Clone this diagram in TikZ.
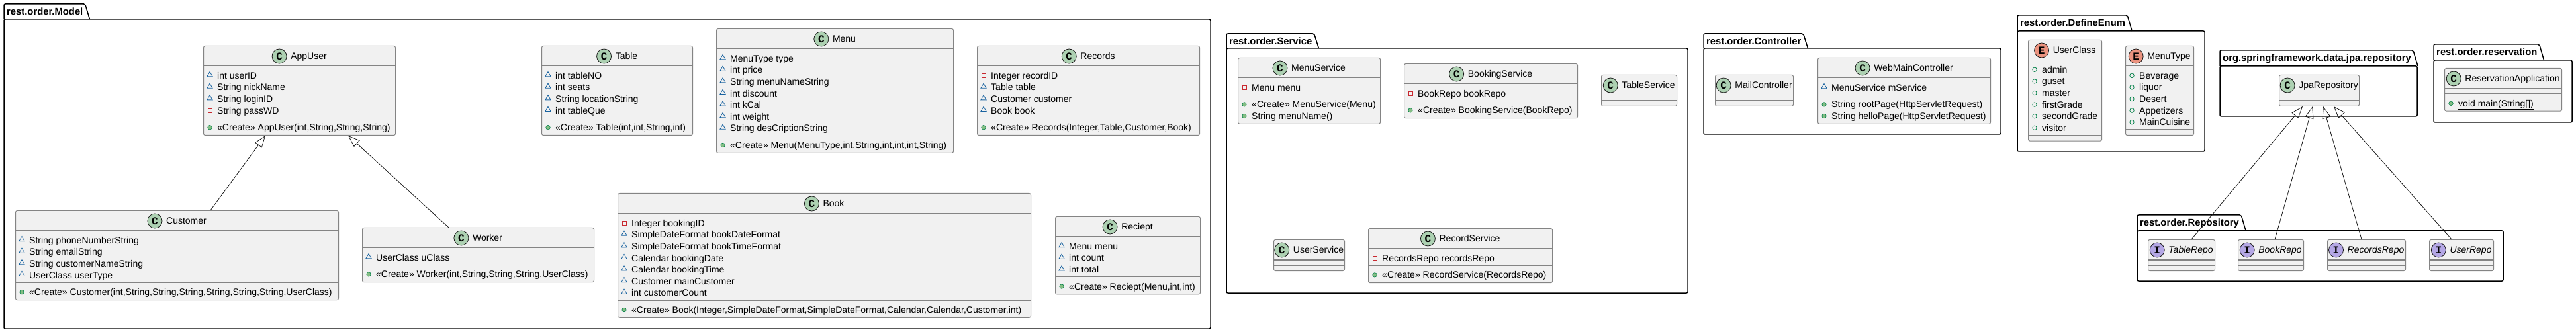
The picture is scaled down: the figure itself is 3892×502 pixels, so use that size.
\documentclass[tikz,border=0pt]{standalone}
\usepackage{fontspec}
\setmainfont{Liberation Sans}
\newfontfamily\lettermono{Liberation Mono}
\usetikzlibrary{calc,shapes.geometric,arrows.meta}

\definecolor{boxfill}{HTML}{F1F1F1}
\definecolor{boxedge}{HTML}{848484}
\definecolor{inkline}{HTML}{181818}
\definecolor{clsgreen}{HTML}{ADD1B2}
\definecolor{enumred}{HTML}{EB937F}
\definecolor{ifcpurple}{HTML}{B4A7E5}
\definecolor{pkgblue}{HTML}{1963A0}
\definecolor{privred}{HTML}{C82930}
\definecolor{pubfill}{HTML}{84BE84}
\definecolor{pubedge}{HTML}{038048}

\tikzset{
  classbox/.style={draw=boxedge, fill=boxfill, line width=1pt, rounded corners=2.5pt, inner sep=0pt},
  classrule/.style={draw=boxedge, line width=1pt},
  classname/.style={font=\fontsize{14}{17}\selectfont, inner sep=0pt},
  member/.style={font=\fontsize{14}{17}\selectfont, inner sep=0pt},
  kindC/.style={circle, draw=inkline, fill=clsgreen, minimum size=22pt, inner sep=0pt, line width=0.8pt, font=\lettermono\bfseries\fontsize{16}{16}\selectfont},
  kindE/.style={kindC, fill=enumred},
  kindI/.style={kindC, fill=ifcpurple},
  pkgicon/.style={regular polygon, regular polygon sides=3, draw=pkgblue, line width=0.8pt, minimum size=9.5pt, inner sep=0pt, yshift=1pt},
  privicon/.style={rectangle, draw=privred, line width=0.8pt, minimum size=6pt, inner sep=0pt},
  pubicon/.style={circle, draw=pubedge, fill=pubfill, line width=0.6pt, minimum size=6.5pt, inner sep=0pt},
  enumicon/.style={circle, draw=pubedge, line width=0.8pt, minimum size=6.5pt, inner sep=0pt},
  pkgframe/.style={draw=black, line width=1.5pt},
  pkglabel/.style={font=\fontsize{14.8}{17}\selectfont\bfseries, inner sep=0pt},
  extends/.style={draw=inkline, line width=0.8pt, -{Triangle[open, length=18pt, width=13pt]}},
}

% name, left, tab top, body top, right, bottom, label
\newcommand{\umlpackage}[7]{%
  \node[pkglabel, anchor=base west] (#1) at (#2+4,#3+16.3) {#7};
  \draw[pkgframe, rounded corners=2pt] (#2,#4) rectangle (#5,#6);
  \draw[pkgframe, rounded corners=2pt] (#2,#4) -- (#2,#3) -- ($(#1.east |- 0,#3)+(3,0)$) -- ($(#1.east |- 0,#4)+(10,0)$);
}

% name, left, top, width, attributes, methods, kind letter, title
\newcommand{\umlclass}[8]{%
  \pgfmathsetmacro\clsheight{47+17.6*(#5+#6)}
  \node[classbox, minimum width=#4, minimum height=\clsheight, anchor=north west] (#1) at (#2,#3) {};
  \draw[classrule] ($(#1.north west)+(0,31)$) -- ($(#1.north east)+(0,31)$);
  \draw[classrule] ($(#1.north west)+(0,39+17.6*#5)$) -- ($(#1.north east)+(0,39+17.6*#5)$);
  \node[classname, anchor=base] (#1-name) at ($(#1.north)+(14,21)$) {#8};
  \node[kind#7] (#1-kind) at ($(#1-name.base west)+(-17,-5)$) {#7};
}

% class, part, first baseline, icon/text list
\newcommand{\members}[4]{%
  \foreach \ic/\tx [count=\k from 0] in {#4}{%
    \node[\ic] (#1-#2\k-icon) at ($(#1.north west)+(10,#3+17.6*\k-5)$) {};
    \node[member, anchor=base west] (#1-#2\k) at ($(#1.north west)+(21,#3+17.6*\k)$) {\tx};
  }%
}

\begin{document}
\begin{tikzpicture}[x=1pt, y=-1pt]
\useasboundingbox (0,0) rectangle (3892,502);

\umlpackage{model}{6}{6}{29}{1829}{497}{rest.order.Model}
\umlpackage{service}{1853}{51}{73}{2550}{443}{rest.order.Service}
\umlpackage{controller}{2574}{51}{73}{3023}{203}{rest.order.Controller}
\umlpackage{defineenum}{3048}{23}{47}{3331}{229}{rest.order.DefineEnum}
\umlpackage{jpa}{3354}{76}{100}{3652}{176}{org.springframework.data.jpa.repository}
\umlpackage{reservation}{3677}{67}{91}{3886}{185}{rest.order.reservation}
\umlpackage{repository}{3229}{325}{349}{3782}{425}{rest.order.Repository}

\umlclass{appuser}{307}{69}{290}{4}{1}{C}{AppUser}
\members{appuser}{a}{50.3}{pkgicon/int userID, pkgicon/String nickName, pkgicon/String loginID, privicon/String passWD}
\members{appuser}{m}{128.7}{pubicon/{«Create» AppUser(int,String,String,String)}}

\umlclass{customer}{23}{318}{488}{4}{1}{C}{Customer}
\members{customer}{a}{50.3}{pkgicon/String phoneNumberString, pkgicon/String emailString, pkgicon/String customerNameString, pkgicon/UserClass userType}
\members{customer}{m}{128.7}{pubicon/{«Create» Customer(int,String,String,String,String,String,String,UserClass)}}

\umlclass{worker}{547}{344}{350}{1}{1}{C}{Worker}
\members{worker}{a}{50.3}{pkgicon/UserClass uClass}
\members{worker}{m}{75.9}{pubicon/{«Create» Worker(int,String,String,String,UserClass)}}

\umlclass{table}{818}{69}{228}{4}{1}{C}{Table}
\members{table}{a}{50.3}{pkgicon/int tableNO, pkgicon/int seats, pkgicon/String locationString, pkgicon/int tableQue}
\members{table}{m}{128.7}{pubicon/{«Create» Table(int,int,String,int)}}

\umlclass{menu}{1082}{43}{358}{7}{1}{C}{Menu}
\members{menu}{a}{50.3}{pkgicon/MenuType type, pkgicon/int price, pkgicon/String menuNameString, pkgicon/int discount, pkgicon/int kCal, pkgicon/int weight, pkgicon/String desCriptionString}
\members{menu}{m}{181.5}{pubicon/{«Create» Menu(MenuType,int,String,int,int,int,String)}}

\umlclass{records}{1476}{69}{336}{4}{1}{C}{Records}
\members{records}{a}{50.3}{privicon/Integer recordID, pkgicon/Table table, pkgicon/Customer customer, pkgicon/Book book}
\members{records}{m}{128.7}{pubicon/{«Create» Records(Integer,Table,Customer,Book)}}

\umlclass{book}{933}{292}{624}{7}{1}{C}{Book}
\members{book}{a}{50.3}{privicon/Integer bookingID, pkgicon/SimpleDateFormat bookDateFormat, pkgicon/SimpleDateFormat bookTimeFormat, pkgicon/Calendar bookingDate, pkgicon/Calendar bookingTime, pkgicon/Customer mainCustomer, pkgicon/int customerCount}
\members{book}{m}{181.5}{pubicon/{«Create» Book(Integer,SimpleDateFormat,SimpleDateFormat,Calendar,Calendar,Customer,int)}}

\umlclass{reciept}{1594}{327}{219}{3}{1}{C}{Reciept}
\members{reciept}{a}{50.3}{pkgicon/Menu menu, pkgicon/int count, pkgicon/int total}
\members{reciept}{m}{111.1}{pubicon/{«Create» Reciept(Menu,int,int)}}

\umlclass{menuservice}{1870}{87}{215}{1}{2}{C}{MenuService}
\members{menuservice}{a}{50.3}{privicon/Menu menu}
\members{menuservice}{m}{75.9}{pubicon/{«Create» MenuService(Menu)}, pubicon/{String menuName()}}

\umlclass{bookingservice}{2121}{96}{262}{1}{1}{C}{BookingService}
\members{bookingservice}{a}{50.3}{privicon/BookRepo bookRepo}
\members{bookingservice}{m}{75.9}{pubicon/{«Create» BookingService(BookRepo)}}

\umlclass{tableservice}{2419}{113}{114}{0}{0}{C}{TableService}
\umlclass{userservice}{1924}{362}{107}{0}{0}{C}{UserService}

\umlclass{recordservice}{2067}{345}{278}{1}{1}{C}{RecordService}
\members{recordservice}{a}{50.3}{privicon/RecordsRepo recordsRepo}
\members{recordservice}{m}{75.9}{pubicon/{«Create» RecordService(RecordsRepo)}}

\umlclass{mailcontroller}{2591}{113}{118}{0}{0}{C}{MailController}

\umlclass{webmaincontroller}{2746}{87}{261}{1}{2}{C}{WebMainController}
\members{webmaincontroller}{a}{50.3}{pkgicon/MenuService mService}
\members{webmaincontroller}{m}{75.9}{pubicon/{String rootPage(HttpServletRequest)}, pubicon/{String helloPage(HttpServletRequest)}}

\umlclass{userclass}{3064}{60}{111}{6}{0}{E}{UserClass}
\members{userclass}{a}{50.3}{enumicon/admin, enumicon/guset, enumicon/master, enumicon/firstGrade, enumicon/secondGrade, enumicon/visitor}

\umlclass{menutype}{3211}{69}{103}{5}{0}{E}{MenuType}
\members{menutype}{a}{50.3}{enumicon/Beverage, enumicon/liquor, enumicon/Desert, enumicon/Appetizers, enumicon/MainCuisine}

\umlclass{jparepository}{3443}{113}{121}{0}{0}{C}{JpaRepository}

\umlclass{reservationapplication}{3693}{103}{177}{0}{1}{C}{ReservationApplication}
\members{reservationapplication}{m}{58.3}{pubicon/{\underline{void main(String[])}}}

\umlclass{tablerepo}{3245}{362}{101}{0}{0}{I}{\itshape TableRepo}
\umlclass{bookrepo}{3381}{362}{99}{0}{0}{I}{\itshape BookRepo}
\umlclass{recordsrepo}{3516}{362}{118}{0}{0}{I}{\itshape RecordsRepo}
\umlclass{userrepo}{3670}{362}{97}{0}{0}{I}{\itshape UserRepo}

\draw[extends] ($(customer.north west)+(295,0)$) -- ($(appuser.south west)+(94,0)$);
\draw[extends] ($(worker.north west)+(131,0)$) -- ($(appuser.south west)+(219,0)$);
\draw[extends] ($(tablerepo.north west)+(66,0)$) -- ($(jparepository.south west)+(36,0)$);
\draw[extends] ($(bookrepo.north west)+(56,0)$) -- ($(jparepository.south west)+(51,0)$);
\draw[extends] ($(recordsrepo.north west)+(52,0)$) -- ($(jparepository.south west)+(67,0)$);
\draw[extends] ($(userrepo.north west)+(34,0)$) -- ($(jparepository.south west)+(83,0)$);
\end{tikzpicture}
\end{document}
